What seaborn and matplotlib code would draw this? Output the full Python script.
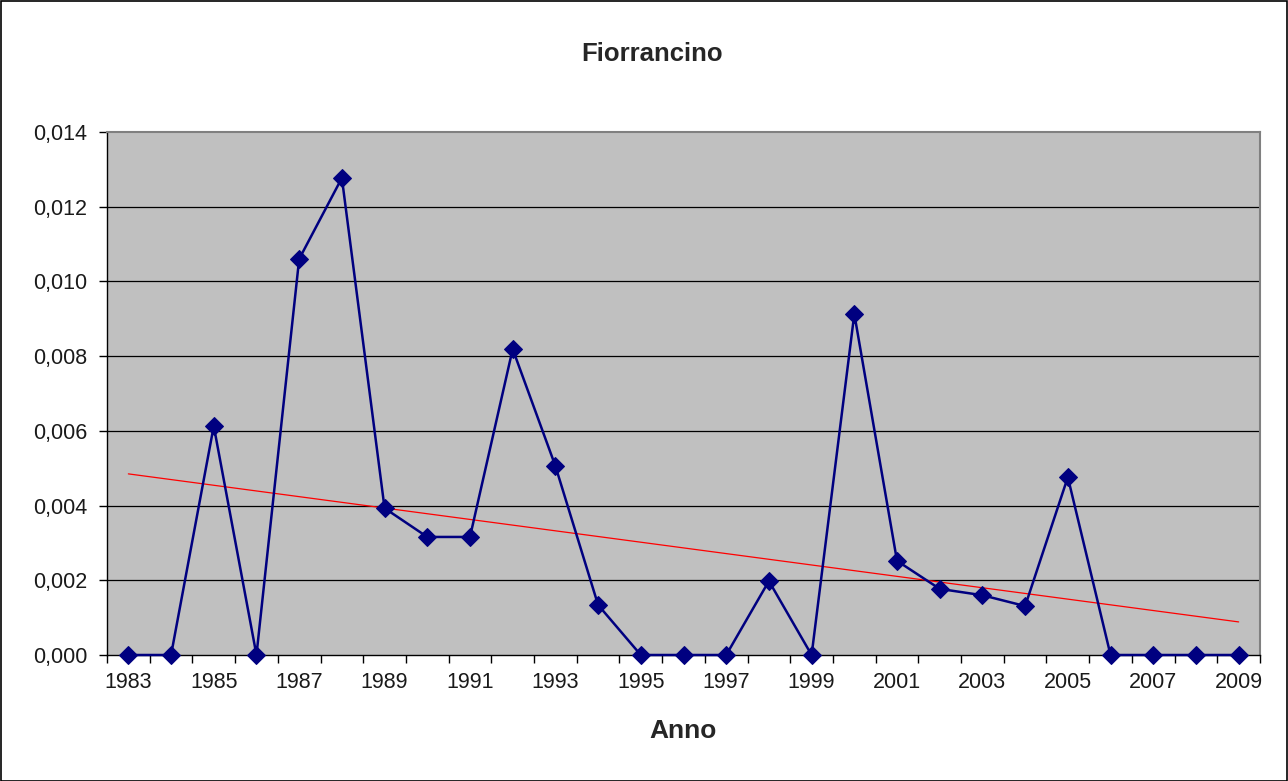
import numpy as np
import pandas as pd
import matplotlib
matplotlib.use("Agg")
import matplotlib.pyplot as plt
import seaborn as sns
from matplotlib.patches import Rectangle

anni = list(range(1983, 2010))
valori = [0.0, 0.0, 0.00613, 0.0, 0.0106, 0.01277, 0.00393, 0.00316, 0.00316,
          0.00819, 0.00506, 0.00134, 0.0, 0.0, 0.0, 0.00198, 0.0, 0.00913,
          0.00252, 0.00177, 0.0016, 0.00131, 0.00476, 0.0, 0.0, 0.0, 0.0]
y_ticks = [0.0, 0.002, 0.004, 0.006, 0.008, 0.010, 0.012, 0.014]
x_labels = list(range(1983, 2010, 2))

data = pd.DataFrame({"Anno": anni, "Valore": valori})

# linea di tendenza (regressione lineare)
coef = np.polyfit(data["Anno"], data["Valore"], 1)
data["Trend"] = np.polyval(coef, data["Anno"])

sns.set_style("white")
plt.rcParams["font.family"] = ["Liberation Sans", "DejaVu Sans"]

fig = plt.figure(figsize=(12.88, 7.81), dpi=100)
ax = fig.add_axes([107/1288, 1-655/781, (1260-107)/1288, (655-132)/781])
ax.set_facecolor("#c0c0c0")

for y in y_ticks[1:-1]:
    ax.axhline(y, color="black", lw=0.9, zorder=1)

sns.lineplot(data=data, x="Anno", y="Valore", color="#000080", lw=1.8,
             marker="D", markersize=9, markeredgecolor="#000080",
             clip_on=False, ax=ax, zorder=3)
sns.lineplot(data=data, x="Anno", y="Trend", color="#ff0000", lw=0.9, ax=ax, zorder=2)

ax.set_xlim(1982.5, 2009.5)
ax.set_ylim(0, 0.014)
ax.set_yticks(y_ticks)
ax.set_yticklabels([f"{v:.3f}".replace(".", ",") for v in y_ticks], fontsize=15.5, color="#1a1a1a")
ax.set_xticks(x_labels)
ax.set_xticklabels([str(a) for a in x_labels], fontsize=15.5, color="#1a1a1a")
ax.set_xticks(np.arange(1982.5, 2010, 1), minor=True)
ax.tick_params(axis="x", which="major", length=0, pad=12)
ax.tick_params(axis="x", which="minor", length=6, width=1, color="black", direction="out")
ax.tick_params(axis="y", length=6, width=1, color="black", direction="out", pad=8)
ax.yaxis.tick_left()
ax.xaxis.tick_bottom()

for s in ["left", "bottom"]:
    ax.spines[s].set_color("black")
    ax.spines[s].set_linewidth(1)
for s in ["top", "right"]:
    ax.spines[s].set_color("#808080")
    ax.spines[s].set_linewidth(1.5)

ax.set_ylabel("")
ax.set_xlabel("Anno", fontsize=19, fontweight="bold", labelpad=19)
fig.text(652/1288, 1-54/781, "Fiorrancino", fontsize=18.5, fontweight="bold",
         ha="center", va="center")

fig.patches.append(Rectangle((0.5/1288, 0.5/781), 1-1.5/1288, 1-1.5/781,
                             transform=fig.transFigure, fill=False,
                             edgecolor="black", lw=1.2))

fig.savefig("out.png", dpi=100)
